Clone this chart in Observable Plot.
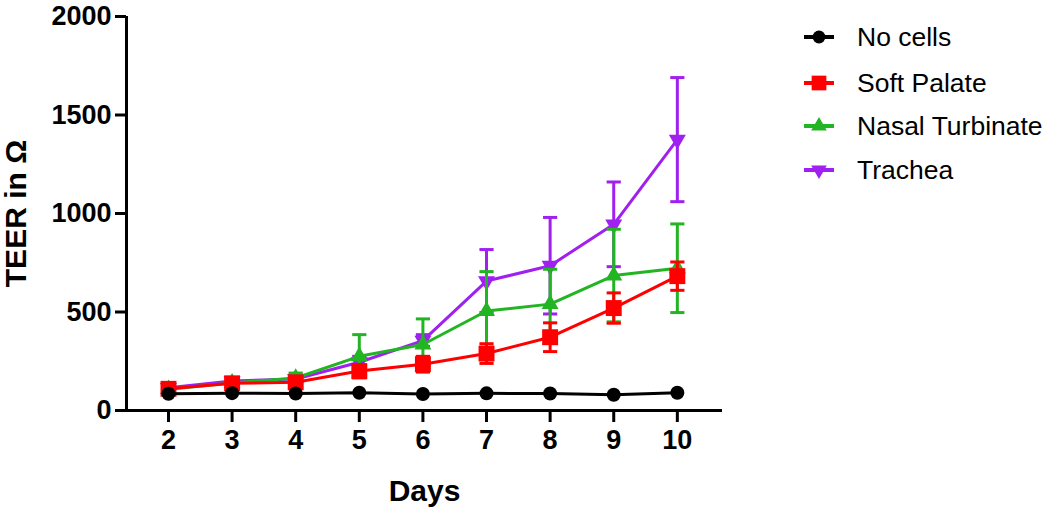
<!DOCTYPE html>
<html>
<head>
<meta charset="utf-8">
<script src="https://cdn.jsdelivr.net/npm/d3@7"></script>
<script src="https://cdn.jsdelivr.net/npm/@observablehq/plot@0.6"></script>
<style>
  html, body { margin: 0; padding: 0; background: #fff; }
  #wrap { position: relative; width: 1050px; height: 512px; font-family: "Liberation Sans", Arial, sans-serif; }
  #legend { position: absolute; left: 800px; top: 20px; }
  .row { position: absolute; left: 0; height: 34px; display: flex; align-items: center; white-space: nowrap; }
  .row span { font-size: 26.5px; color: #000; margin-left: 19px; }
</style>
</head>
<body>
<div id="wrap"></div>
<script>
const days = [2, 3, 4, 5, 6, 7, 8, 9, 10];
const seriesNames = ["No cells", "Soft Palate", "Nasal Turbinate", "Trachea"];
const seriesColors = ["#000000", "#ff0000", "#22b422", "#a020f0"];
const noCells = [85, 88, 86, 90, 84, 87, 86, 80, 90];
const noCellsErr = [0, 0, 0, 0, 0, 0, 0, 0, 0];
const softPalate = [110, 138, 143, 200, 235, 289, 372, 520, 682];
const softPalateErr = [12, 15, 15, 30, 40, 50, 73, 77, 72];
const nasalTurbinate = [108, 140, 165, 275, 335, 505, 540, 685, 722];
const nasalTurbinateErr = [10, 15, 25, 110, 130, 200, 177, 235, 225];
const trachea = [115, 150, 160, 245, 355, 657, 735, 945, 1375];
const tracheaErr = [10, 15, 20, 30, 30, 160, 245, 215, 315];
const yTicks = [0, 500, 1000, 1500, 2000];

const valuesBySeries = [noCells, softPalate, nasalTurbinate, trachea];
const errBySeries = [noCellsErr, softPalateErr, nasalTurbinateErr, tracheaErr];
const symbols = ["circle", "square", "triangle", "triangle"];
const rotations = [0, 0, 0, 180];
const radii = [7, 9, 6.3, 6.3];

const rows = [];
seriesNames.forEach((s, i) => days.forEach((d, j) => rows.push({
  series: s, day: d, value: valuesBySeries[i][j], err: errBySeries[i][j]
})));

const capSymbol = {
  draw(ctx, size) {
    const w = Math.sqrt(size);
    ctx.moveTo(-w, 0);
    ctx.lineTo(w, 0);
  }
};

const marks = [];
// draw in reverse legend order so "No cells" ends on top
for (let i = seriesNames.length - 1; i >= 0; i--) {
  const s = seriesNames[i];
  const c = seriesColors[i];
  const data = rows.filter(r => r.series === s);
  const withErr = data.filter(r => r.err > 0);
  marks.push(Plot.line(data, {x: "day", y: "value", stroke: c, strokeWidth: 3}));
  marks.push(Plot.ruleX(withErr, {x: "day", y1: r => r.value - r.err, y2: r => r.value + r.err, stroke: c, strokeWidth: 3}));
  marks.push(Plot.dot(withErr, {x: "day", y: r => r.value + r.err, symbol: capSymbol, r: 4, stroke: c, strokeWidth: 3, fill: "none"}));
  marks.push(Plot.dot(withErr, {x: "day", y: r => r.value - r.err, symbol: capSymbol, r: 4, stroke: c, strokeWidth: 3, fill: "none"}));
  marks.push(Plot.dot(data, {x: "day", y: "value", symbol: symbols[i], rotate: rotations[i], r: radii[i], fill: c, stroke: "none"}));
}

const chart = Plot.plot({
  width: 1050,
  height: 512,
  marginLeft: 126,
  marginRight: 328,
  marginTop: 16,
  marginBottom: 102,
  style: {fontFamily: "'Liberation Sans', Arial, sans-serif", background: "#fff", color: "#000"},
  x: {domain: [1.34, 10.71]},
  y: {domain: [0, 2000]},
  marks: [
    Plot.axisY({ticks: yTicks, tickSize: 11, tickPadding: 4, strokeWidth: 3, fontSize: 27, fontWeight: "bold",
      label: "TEER in Ω", labelArrow: "none", labelAnchor: "center", labelOffset: 122, tickFormat: d => String(d)}),
    Plot.axisX({ticks: days, tickSize: 12, tickPadding: 7, strokeWidth: 3, fontSize: 27, fontWeight: "bold",
      label: "Days", labelArrow: "none", labelAnchor: "center", labelOffset: 90, tickFormat: d => String(d)}),
    Plot.ruleY([0], {stroke: "#000", strokeWidth: 3}),
    Plot.ruleX([1.34], {stroke: "#000", strokeWidth: 3}),
    ...marks
  ]
});
chart.querySelectorAll("g[aria-label='y-axis label'] text, g[aria-label='x-axis label'] text").forEach(t => {
  t.textContent = t.textContent.replace(/\s*[↑→←↓]\s*/g, "").trim();
  t.setAttribute("font-size", "30");
  t.setAttribute("font-weight", "bold");
  t.style.fontSize = "30px";
  t.style.fontWeight = "bold";
});

const wrap = document.getElementById("wrap");
wrap.appendChild(chart);

// legend
const legend = document.createElement("div");
legend.id = "legend";
const rowTops = [0, 46, 89, 133];
seriesNames.forEach((s, i) => {
  const row = document.createElement("div");
  row.className = "row";
  row.style.top = rowTops[i] + "px";
  const sym = d3.symbol().type([d3.symbolCircle, d3.symbolSquare, d3.symbolTriangle, d3.symbolTriangle][i])
    .size(Math.PI * radii[i] * radii[i] * 0.85)();
  row.innerHTML = `<svg width="38" height="24" viewBox="-19 -12 38 24">
      <line x1="-15" x2="15" y1="0" y2="0" stroke="${seriesColors[i]}" stroke-width="4"/>
      <path d="${sym}" fill="${seriesColors[i]}" transform="rotate(${rotations[i]})"/>
    </svg><span>${s}</span>`;
  legend.appendChild(row);
});
wrap.appendChild(legend);
</script>
</body>
</html>
